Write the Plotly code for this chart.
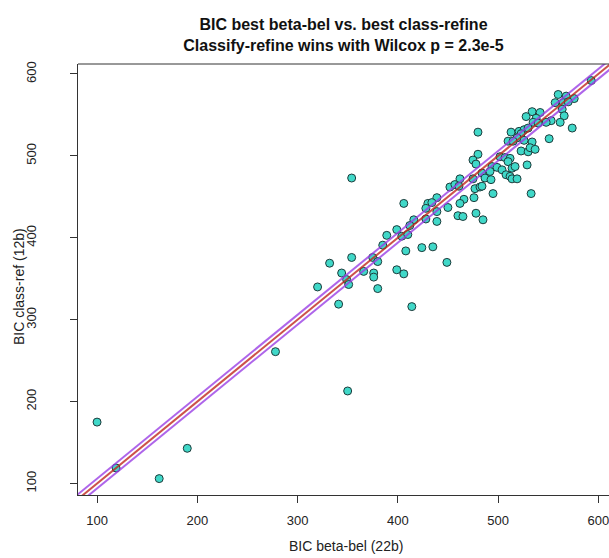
import plotly.graph_objects as go

# BIC beta-bel (22b) vs BIC class-ref (12b)
bic_beta_bel = [
    593, 560, 568, 576, 557, 565, 570, 564, 566, 562, 574, 553, 548, 551,
    534, 542, 528, 538, 535, 540, 513, 521, 526, 530, 523, 519, 510, 515,
    526, 534, 523, 530, 532, 537, 480, 480, 475, 478, 502, 507, 512, 510,
    514, 517, 529, 494, 499, 504, 508, 512, 514, 519, 484, 487, 492, 493,
    475, 462, 452, 457, 461, 477, 482, 484, 495, 476, 466, 462, 450, 439,
    430, 434, 428, 439, 439, 428, 460, 465, 478, 485, 533, 406, 354, 416,
    412, 404, 399, 410, 389, 385, 408, 424, 435, 354, 375, 449, 332, 344,
    366, 376, 376, 380, 349, 351, 320, 341, 380, 399, 406, 414, 350, 100,
    119, 162, 190, 278,
]
bic_class_ref = [
    592, 575, 573, 570, 565, 565, 566, 557, 549, 541, 534, 543, 541, 521,
    554, 553, 548, 546, 541, 540, 529, 530, 532, 534, 527, 522, 518, 518,
    519, 517, 506, 505, 510, 508, 529, 502, 495, 490, 499, 498, 497, 493,
    485, 487, 489, 487, 486, 483, 477, 475, 472, 472, 479, 473, 481, 471,
    472, 472, 462, 465, 463, 460, 462, 463, 454, 449, 447, 442, 437, 449,
    442, 443, 436, 432, 420, 423, 427, 426, 430, 422, 454, 442, 473, 422,
    415, 402, 410, 404, 403, 391, 384, 388, 389, 376, 376, 370, 369, 357,
    359, 357, 352, 371, 349, 343, 340, 319, 338, 361, 356, 316, 213, 175,
    119, 106, 143, 261,
]

x_ticks = [100, 200, 300, 400, 500, 600]
y_ticks = [100, 200, 300, 400, 500, 600]
band_offset = 6
line_x = [60, 640]

fig = go.Figure()
fig.add_trace(go.Scatter(
    x=bic_beta_bel, y=bic_class_ref, mode="markers",
    marker=dict(size=8, color="#40d8c8", line=dict(color="#1e3c3c", width=1)),
    showlegend=False, hoverinfo="x+y",
))
for off, col, w in [(band_offset, "#9a3fe6", 2), (-band_offset, "#9a3fe6", 2), (0, "#c0281e", 2)]:
    fig.add_trace(go.Scatter(
        x=line_x, y=[v + off for v in line_x], mode="lines",
        line=dict(color=col, width=w), opacity=0.8,
        showlegend=False, hoverinfo="skip",
    ))

axis_common = dict(
    showgrid=False, zeroline=False, showline=True, linecolor="#333333", linewidth=1,
    ticks="outside", ticklen=7, tickcolor="#333333", tickwidth=1,
    ticklabeloverflow="allow",
    tickfont=dict(family="Liberation Sans, Arial, sans-serif", size=13, color="#222222"),
)
fig.update_xaxes(range=[81, 610.7], tickvals=x_ticks, ticklabelstandoff=6, **axis_common)
fig.update_yaxes(range=[86, 612.2], tickvals=y_ticks, tickangle=-90, ticklabelstandoff=29, **axis_common)

fig.update_layout(
    width=609, height=558,
    margin=dict(l=78, r=0, t=64, b=63),
    paper_bgcolor="white", plot_bgcolor="white",
    font=dict(family="Liberation Sans, Arial, sans-serif", color="#222222"),
    title=dict(
        text="<b>BIC best beta-bel vs. best class-refine<br>Classify-refine wins with Wilcox p = 2.3e-5</b>",
        x=0.5, xref="paper", xanchor="center", y=1 - 30 / 558, yref="container", yanchor="top",
        font=dict(size=16, color="#111111"),
    ),
    shapes=[dict(type="line", xref="paper", yref="paper", x0=0, x1=1, y0=1, y1=1,
                 line=dict(color="#333333", width=1))],
    annotations=[
        dict(text="BIC beta-bel (22b)", xref="paper", yref="paper", x=0.505, y=-(546 - 495) / 431,
             xanchor="center", yanchor="middle", showarrow=False, font=dict(size=14, color="#222222")),
        dict(text="BIC class-ref (12b)", xref="paper", yref="paper", x=-(78 - 19) / 531, y=1 - (287 - 64) / 431,
             xanchor="center", yanchor="middle", textangle=-90, showarrow=False,
             font=dict(size=14, color="#222222")),
    ],
)

fig.write_html("out.html", config={"displayModeBar": False},
               post_script="document.body.style.margin='0';document.body.style.padding='0';")
